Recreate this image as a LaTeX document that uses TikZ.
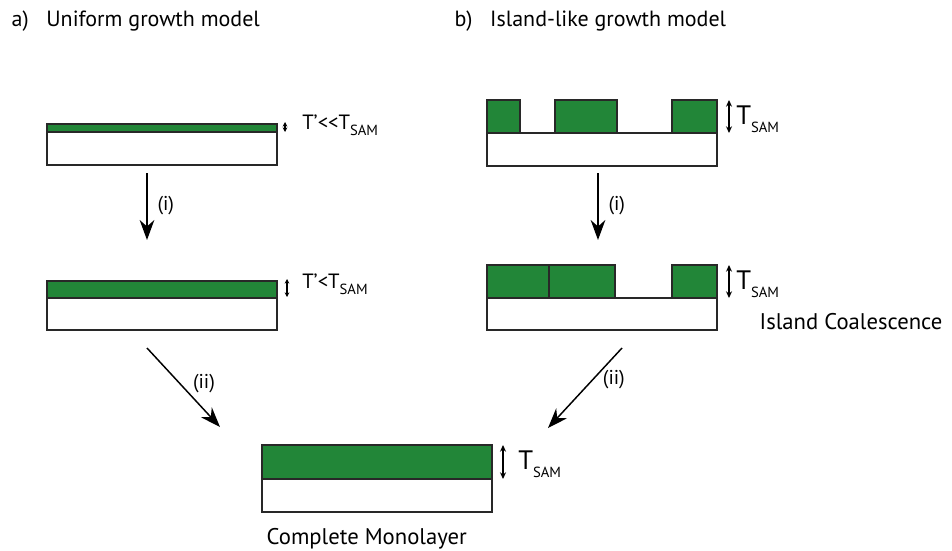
\documentclass[tikz,border=0pt]{standalone}
\usepackage{fontspec}
\setmainfont{PT Sans}
\usetikzlibrary{arrows.meta}
\definecolor{samgreen}{RGB}{34,134,56}
\definecolor{edge}{RGB}{40,40,40}
\tikzset{
  substrate/.style={draw=edge, line width=1.3pt, fill=white},
  film/.style={draw=edge, line width=1.3pt, fill=samgreen},
  process/.style={-{Stealth[length=15pt,width=11pt]}, line width=1.1pt, black},
  gauge/.style={{Stealth[length=5pt,width=4.5pt]}-{Stealth[length=5pt,width=4.5pt]}, line width=0.8pt, black},
  small gauge/.style={{Stealth[length=3.5pt,width=3.5pt]}-{Stealth[length=3.5pt,width=3.5pt]}, line width=0.8pt, black},
  steplabel/.style={font=\fontsize{15}{17}\selectfont},
  title/.style={font=\fontsize{16.5}{19}\selectfont, anchor=base west},
  caption/.style={font=\fontsize{17}{19}\selectfont, anchor=base west},
  thick label/.style={font=\fontsize{15.5}{17}\selectfont, anchor=base west, inner sep=0pt},
  big label/.style={font=\fontsize{20}{22}\selectfont, anchor=base west, inner sep=0pt},
}
\newcommand{\samsub}[2]{\raisebox{#1}{\fontsize{#2}{#2}\selectfont SAM}}
\begin{document}
\begin{tikzpicture}[x=0.75pt,y=-0.75pt]
\useasboundingbox (0,0) rectangle (952,550);

% headings
\node[title] (ta) at (7,26) {a)\hspace{0.8em}Uniform growth model};
\node[title] (tb) at (450,26) {b)\hspace{0.8em}Island-like growth model};

% ---- uniform growth: thin film
\draw[substrate] (47,132) rectangle (277,165);
\draw[film] (47,124) rectangle (277,132);
\coordinate (ga1) at (285,122);
\coordinate (gb1) at (285,132);
\draw[small gauge] (ga1) -- (gb1);
\node[thick label] (la1) at (302,129) {T’{<}{<}T\samsub{-5pt}{11}};

% ---- uniform growth: thicker film
\draw[substrate] (47,298) rectangle (277,330);
\draw[film] (47,281) rectangle (277,298);
\coordinate (ga2) at (287,279);
\coordinate (gb2) at (287,297);
\draw[small gauge] (ga2) -- (gb2);
\node[thick label] (la2) at (302,288) {T’{<}T\samsub{-5pt}{11}};

% ---- island growth: separate islands
\draw[substrate] (487,133) rectangle (717,166);
\draw[film] (487,100) rectangle (520,133);
\draw[film] (555,100) rectangle (617,133);
\draw[film] (672,100) rectangle (717,133);
\coordinate (gc1) at (729,100);
\coordinate (gd1) at (729,133);
\draw[gauge] (gc1) -- (gd1);
\node[big label] (lb1) at (736,124) {T\samsub{-6pt}{11}};

% ---- island growth: coalescence
\draw[substrate] (487,298) rectangle (717,330);
\draw[film] (487,265) rectangle (549,298);
\draw[film] (549,265) rectangle (615,298);
\draw[film] (672,265) rectangle (717,298);
\coordinate (gc2) at (729,265);
\coordinate (gd2) at (729,298);
\draw[gauge] (gc2) -- (gd2);
\node[big label] (lb2) at (736,289) {T\samsub{-6pt}{11}};
\node[caption] (cap1) at (755,329) {Island Coalescence};

% ---- complete monolayer
\draw[substrate] (262,479) rectangle (492,512);
\draw[film] (262,445) rectangle (492,479);
\coordinate (ge) at (503,445);
\coordinate (gf) at (503,479);
\draw[gauge] (ge) -- (gf);
\node[big label] (lc) at (518,469) {T\samsub{-6pt}{11}};
\node[caption] (cap2) at (262,544) {Complete Monolayer};

% ---- process arrows
\coordinate (a1s) at (147,173);
\coordinate (a1e) at (147,240);
\draw[process] (a1s) -- node[steplabel, anchor=west, xshift=4pt, yshift=1pt] {(i)} (a1e);
\coordinate (b1s) at (598,173);
\coordinate (b1e) at (598,240);
\draw[process] (b1s) -- node[steplabel, anchor=west, xshift=4pt, yshift=1pt] {(i)} (b1e);
\coordinate (a2s) at (147,348);
\coordinate (a2e) at (220,427);
\draw[process] (a2s) -- node[steplabel, pos=0.45, anchor=west, xshift=6pt] {(ii)} (a2e);
\coordinate (b2s) at (622,348);
\coordinate (b2e) at (548,428);
\draw[process] (b2s) -- node[steplabel, pos=0.4, anchor=west, xshift=4pt] {(ii)} (b2e);
\end{tikzpicture}
\end{document}
